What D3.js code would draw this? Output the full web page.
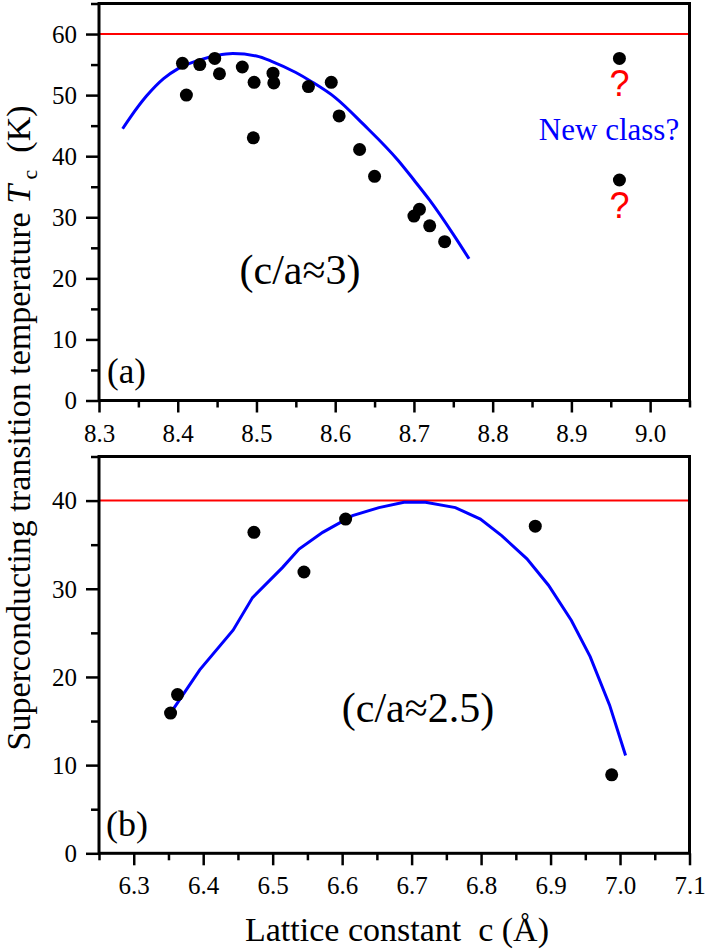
<!DOCTYPE html>
<html>
<head>
<meta charset="utf-8">
<script src="https://cdn.jsdelivr.net/npm/d3@7"></script>
<style>
  body { margin: 0; background: #fff; }
  svg { display: block; }
</style>
</head>
<body>
<script>
// panel (a): c/a ~ 3
const topC  = [8.406, 8.411, 8.428, 8.447, 8.453, 8.482, 8.497, 8.496, 8.521, 8.522, 8.566, 8.595, 8.605, 8.631, 8.650, 8.700, 8.707, 8.720, 8.739];
const topTc = [55.2, 50.0, 55.0, 56.0, 53.5, 54.6, 52.1, 43.0, 53.6, 52.0, 51.4, 52.1, 46.6, 41.1, 36.7, 30.2, 31.3, 28.6, 26.0];
const newC  = [8.961, 8.961];
const newTc = [56.0, 36.1];
const topFitC  = [8.330, 8.340, 8.360, 8.382, 8.400, 8.424, 8.450, 8.470, 8.500, 8.520, 8.550, 8.570, 8.600, 8.636, 8.680, 8.700, 8.720, 8.750, 8.770];
const topFitTc = [44.5, 46.4, 49.8, 52.7, 54.3, 55.6, 56.5, 56.8, 56.4, 55.5, 53.7, 52.2, 49.6, 45.2, 39.3, 36.1, 32.8, 27.2, 23.2];
const topLimit = 60;
const topXTicks = ["8.3", "8.4", "8.5", "8.6", "8.7", "8.8", "8.9", "9.0"];
const topYTicks = ["0", "10", "20", "30", "40", "50", "60"];

// panel (b): c/a ~ 2.5
const botC  = [6.353, 6.363, 6.473, 6.545, 6.605, 6.878, 6.988];
const botTc = [15.9, 18.0, 36.4, 31.9, 37.9, 37.1, 8.9];
const botFitC  = [6.353, 6.395, 6.443, 6.471, 6.514, 6.538, 6.572, 6.615, 6.653, 6.689, 6.720, 6.763, 6.799, 6.830, 6.866, 6.897, 6.930, 6.957, 6.985, 7.008];
const botFitTc = [15.9, 20.8, 25.3, 29.0, 32.4, 34.5, 36.4, 38.3, 39.2, 39.8, 39.8, 39.2, 37.9, 36.0, 33.4, 30.4, 26.4, 22.3, 16.8, 11.1];
const botLimit = 40;
const botXTicks = ["6.3", "6.4", "6.5", "6.6", "6.7", "6.8", "6.9", "7.0", "7.1"];
const botYTicks = ["0", "10", "20", "30", "40"];

var SERIF = "'Liberation Serif', 'Times New Roman', Times, 'DejaVu Serif', serif";
var SANS = "'Liberation Sans', Arial, sans-serif";

var W = 706, H = 949;
var svg = d3.select("body").append("svg").attr("width", W).attr("height", H)
  .style("font-family", SERIF);

var left = 99, right = 689.5;

function panel(opt) {
  var x = d3.scaleLinear().domain(opt.xDomain).range([left, right]);
  var y = d3.scaleLinear().domain(opt.yDomain).range([opt.bottom, opt.top]);
  var g = svg.append("g");

  // minor ticks every 0.05 / 5
  var xMinor = d3.range(0, Math.round((opt.xDomain[1] - opt.xDomain[0]) / 0.05) + 1)
    .map(i => +(opt.xDomain[0] + i * 0.05).toFixed(2));
  var xMajor = opt.xTicks.map(Number);
  var yMajor = opt.yTicks.map(Number);
  var yMinor = d3.range(0, opt.yDomain[1] + 0.1, 5);

  var xa = g.append("g").attr("transform", "translate(0," + opt.bottom + ")")
    .call(d3.axisBottom(x).tickValues(xMinor.filter(v => !xMajor.some(m => Math.abs(m - v) < 1e-6)))
      .tickSize(7).tickFormat(""));
  var xb = g.append("g").attr("transform", "translate(0," + opt.bottom + ")")
    .call(d3.axisBottom(x).tickValues(xMajor).tickSize(12).tickPadding(27)
      .tickFormat((d, i) => opt.xTicks[i]));
  var ya = g.append("g").attr("transform", "translate(" + left + ",0)")
    .call(d3.axisLeft(y).tickValues(yMinor.filter(v => yMajor.indexOf(v) < 0)).tickSize(8).tickFormat(""));
  var yb = g.append("g").attr("transform", "translate(" + left + ",0)")
    .call(d3.axisLeft(y).tickValues(yMajor).tickSize(13).tickPadding(9)
      .tickFormat((d, i) => opt.yTicks[i]));

  [xa, xb, ya, yb].forEach(function(a) {
    a.attr("font-family", null).attr("font-size", null);
    a.select(".domain").remove();
    a.selectAll("line").attr("stroke", "#000").attr("stroke-width", 2.5);
    a.selectAll("text").style("font-size", "25px").attr("fill", "#000")
      .style("font-family", SERIF);
  });
  xb.selectAll("text").attr("dy", null).attr("y", 41);
  yb.selectAll("text").attr("dy", "0.33em");

  // limit line
  g.append("line")
    .attr("x1", left).attr("x2", right)
    .attr("y1", y(opt.limit)).attr("y2", y(opt.limit))
    .attr("stroke", "#ff0000").attr("stroke-width", 2);

  // fit curve
  var pts = opt.fitC.map((c, i) => [c, opt.fitTc[i]]);
  g.append("path")
    .datum(pts)
    .attr("fill", "none")
    .attr("stroke", "#0000ff")
    .attr("stroke-width", 3)
    .attr("d", d3.line().x(d => x(d[0])).y(d => y(d[1])).curve(opt.curve));

  // data points
  g.selectAll("circle.pt")
    .data(opt.c.map((c, i) => [c, opt.tc[i]]))
    .enter().append("circle")
    .attr("class", "pt")
    .attr("cx", d => x(d[0]))
    .attr("cy", d => y(d[1]))
    .attr("r", 6.5)
    .attr("fill", "#000");

  // frame
  g.append("rect")
    .attr("x", left).attr("y", opt.top)
    .attr("width", right - left).attr("height", opt.bottom - opt.top)
    .attr("fill", "none").attr("stroke", "#000").attr("stroke-width", 3);

  return { g: g, x: x, y: y };
}

var pa = panel({
  xDomain: [8.3, 9.05], yDomain: [0, 65], top: 3.5, bottom: 400.5,
  xTicks: topXTicks, yTicks: topYTicks, limit: topLimit,
  c: topC, tc: topTc, fitC: topFitC, fitTc: topFitTc, curve: d3.curveMonotoneX
});

pa.g.selectAll("circle.nw")
  .data(newC.map((c, i) => [c, newTc[i]]))
  .enter().append("circle")
  .attr("class", "nw")
  .attr("cx", d => pa.x(d[0]))
  .attr("cy", d => pa.y(d[1]))
  .attr("r", 6.5)
  .attr("fill", "#000");

pa.g.selectAll("text.q")
  .data(newTc)
  .enter().append("text")
  .attr("class", "q")
  .attr("x", pa.x(newC[0]))
  .attr("y", d => pa.y(d) + 38)
  .attr("text-anchor", "middle")
  .style("font-family", SANS)
  .style("font-size", "36px")
  .attr("fill", "#ff0000")
  .text("?");

pa.g.append("text")
  .attr("x", 609).attr("y", 140)
  .attr("text-anchor", "middle")
  .style("font-size", "31px")
  .attr("fill", "#0000ff")
  .text("New class?");

pa.g.append("text")
  .attr("x", 107).attr("y", 383)
  .style("font-size", "35px")
  .text("(a)");

pa.g.append("text")
  .attr("x", 300).attr("y", 284)
  .attr("text-anchor", "middle")
  .style("font-size", "42px")
  .text("(c/a\u22483)");

var pb = panel({
  xDomain: [6.25, 7.1], yDomain: [0, 45], top: 456.5, bottom: 853.3,
  xTicks: botXTicks, yTicks: botYTicks, limit: botLimit,
  c: botC, tc: botTc, fitC: botFitC, fitTc: botFitTc, curve: d3.curveLinear
});

pb.g.append("text")
  .attr("x", 106).attr("y", 836)
  .style("font-size", "36px")
  .text("(b)");

pb.g.append("text")
  .attr("x", 418).attr("y", 722)
  .attr("text-anchor", "middle")
  .style("font-size", "42px")
  .text("(c/a\u22482.5)");

// axis titles
svg.append("text")
  .attr("x", 397).attr("y", 941)
  .attr("text-anchor", "middle")
  .style("font-size", "34px")
  .style("white-space", "pre")
  .text("Lattice constant  c (\u00c5)");

var yt = svg.append("text")
  .attr("transform", "translate(30,428) rotate(-90)")
  .attr("text-anchor", "middle")
  .style("font-size", "34px")
  .style("white-space", "pre");
yt.append("tspan").text("Superconducting transition temperature ");
yt.append("tspan").style("font-style", "italic").text("T");
yt.append("tspan").style("font-size", "22px").attr("dy", 7).text(" c");
yt.append("tspan").attr("dy", -7).text("  (K)");
</script>
</body>
</html>
